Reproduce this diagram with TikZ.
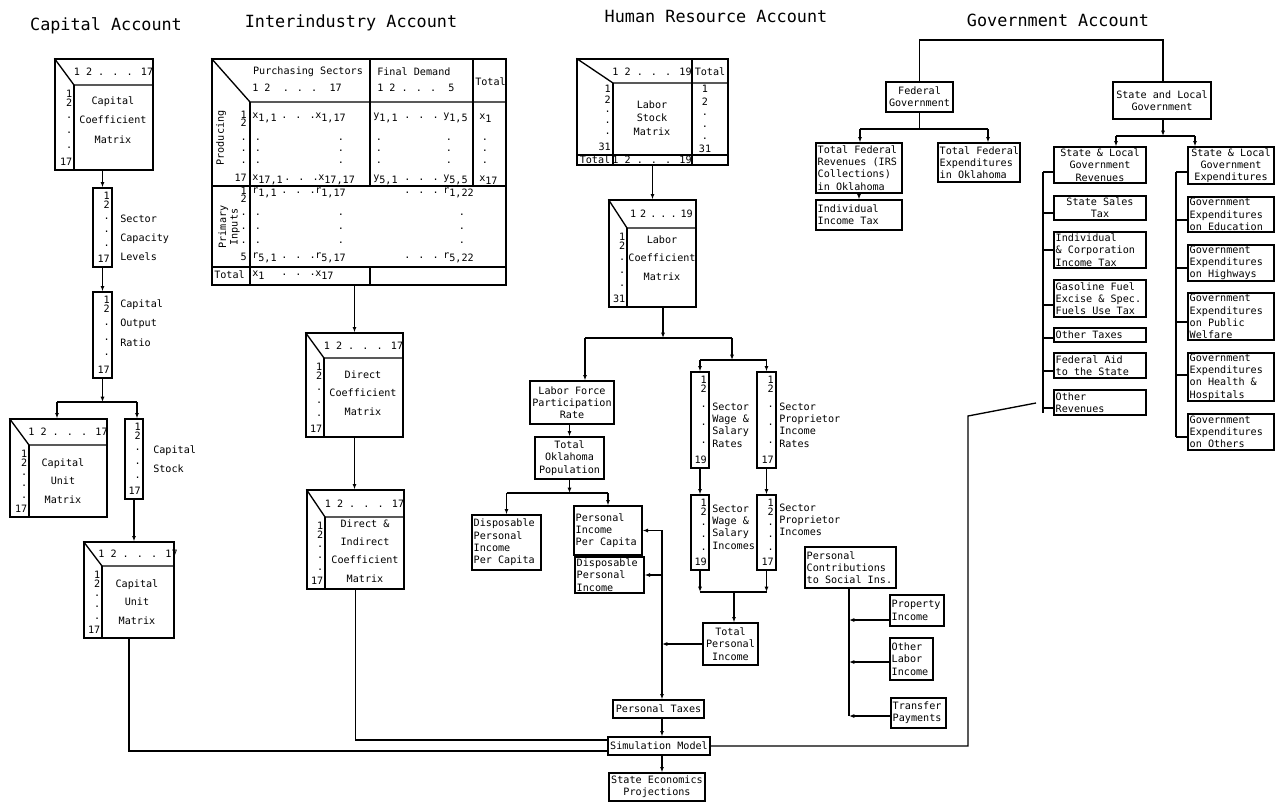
\documentclass[tikz,border=0pt]{standalone}
\usepackage{fontspec}
\setmainfont{DejaVu Sans Mono}
\usetikzlibrary{arrows.meta,fit,calc}
\newcommand{\lw}[1]{\raisebox{-2.4pt}{#1}}
\newcommand{\fsn}{\fontsize{7.6}{9.2}\selectfont}
\newcommand{\fsw}{\fontsize{7.6}{14.4}\selectfont}
\newcommand{\fsm}{\fontsize{7.6}{13.8}\selectfont}
\newcommand{\fsl}{\fontsize{7.6}{10.1}\selectfont}
% matrix box: name,x1,y1,x2,y2,xd,yd,header,last
\newcommand{\matbox}[9]{%
  \node[bx,fit={(#2,#3) (#4,#5)}] (#1) {};
  \draw[ln] (#1.north west) -- (#6,#7) -- (#4,#7);
  \draw[ln] (#6,#7) -- (#6,#5);
  \node[tx] (#1h) at ({(#6+#4)/2},{(#3+#7)/2}) {#8};
  \node[tx,anchor=east] (#1n1) at ({#6-1.5},{#7+9}) {1};
  \node[tx,anchor=east] (#1n2) at ({#6-1.5},{#7+18}) {2};
  \node[tx,anchor=east] (#1n3) at ({#6-1.5},{#7+18+(#5-#7-26)*0.25}) {.};
  \node[tx,anchor=east] (#1n4) at ({#6-1.5},{#7+18+(#5-#7-26)*0.5}) {.};
  \node[tx,anchor=east] (#1n5) at ({#6-1.5},{#7+18+(#5-#7-26)*0.75}) {.};
  \node[tx,anchor=east] (#1n6) at ({#6-1.5},{#5-8}) {#9};
}
% vertical column: name,x1,y1,x2,y2,last
\newcommand{\vcol}[6]{%
  \node[bx,fit={(#2,#3) (#4,#5)}] (#1) {};
  \node[tx,anchor=east] (#1n1) at ({#4-2},{#3+8}) {1};
  \node[tx,anchor=east] (#1n2) at ({#4-2},{#3+17}) {2};
  \node[tx,anchor=east] (#1n3) at ({#4-2},{#3+17+(#5-#3-25)*0.25}) {.};
  \node[tx,anchor=east] (#1n4) at ({#4-2},{#3+17+(#5-#3-25)*0.5}) {.};
  \node[tx,anchor=east] (#1n5) at ({#4-2},{#3+17+(#5-#3-25)*0.75}) {.};
  \node[tx,anchor=east] (#1n6) at ({#4-2},{#5-8}) {#6};
}
\newcommand{\cbox}[4]{%
  \node[bx,fit={#2 #3}] (#1) {};
  \node[tx,align=center] (#1t) at (#1.center) {#4};
}
\newcommand{\lbox}[4]{%
  \node[bx,fit={#2 #3}] (#1) {};
  \node[tx,align=left,anchor=west] (#1t) at ([xshift=1.6pt]#1.west) {#4};
}
\begin{document}
\begin{tikzpicture}[x=0.75pt,y=-0.75pt,
  ln/.style={line width=1pt},
  arr/.style={line width=1pt,-{Latex[length=4pt,width=3pt]}},
  bx/.style={draw,line width=1pt,inner sep=0pt},
  tx/.style={inner sep=0pt,font=\fsn},
  ttl/.style={inner sep=0pt,font=\fontsize{12.6}{14}\selectfont}]
\fill[white] (0,0) rectangle (1279,803);
\useasboundingbox (0,0) rectangle (1279,803);

% ---------- titles
\node[ttl] (t1) at (106,26) {Capital Account};
\node[ttl] (t2) at (351,23) {Interindustry Account};
\node[ttl] (t3) at (716,16) {Human Resource Account};
\node[ttl] (t4) at (1058,20) {Government Account};

% ---------- Capital account
\matbox{ccm}{55}{59}{153}{170}{74}{85}{1 2 . . . 17}{17}
\node[tx,align=center,font=\fsw] (ccmt) at (113,120) {Capital\\Coefficient\\Matrix};
\vcol{scl}{93}{188}{112}{267}{17}
\node[tx,align=left,anchor=west,font=\fsw] (sclt) at (120,238) {Sector\\Capacity\\Levels};
\vcol{cor}{93}{292}{112}{378}{17}
\node[tx,align=left,anchor=west,font=\fsw] (cort) at (120,323) {Capital\\Output\\Ratio};
\draw[arr] (scl.north |- ccm.south) -- (scl.north);
\draw[arr] (scl.south) -- (cor.north);
\coordinate (cbm) at (102.5,402);
\coordinate (cbl) at (57,402);
\coordinate (cbr) at (137,402);
\draw[arr] (cor.south) -- (cbm);
\draw[ln] (cbl) -- (cbr);
\matbox{cum}{10}{419}{107}{517}{29}{445}{1 2 . . . 17}{17}
\node[tx,align=center,font=\fsm] (cumt) at (63,481) {Capital\\Unit\\Matrix};
\vcol{cst}{125}{419}{143}{499}{17}
\node[tx,align=left,anchor=west,font=\fsm] (cstt) at (153,459) {Capital\\Stock};
\draw[arr] (cbl) -- (cbl |- cum.north);
\draw[arr] (cbr) -- (cbr |- cst.north);
\matbox{cumb}{84}{542}{174}{638}{102}{566}{1 2 . . . 17}{17}
\node[tx,align=center,font=\fsm] (cumbt) at (137,602) {Capital\\Unit\\Matrix};
\draw[arr] (cst.south) -- (cst.south |- cumb.north);

% ---------- Interindustry account
\node[bx,fit={(212,59) (506,285)}] (iot) {};
\draw[ln] (iot.north west) -- (250,102) -- (506,102);
\draw[ln] (250,102) -- (250,285);
\draw[ln] (370,59) -- (370,186);
\draw[ln] (473,59) -- (473,186);
\draw[ln] (212,186) -- (506,186);
\draw[ln] (212,267) -- (506,267);
\draw[ln] (370,267) -- (370,285);
\node[tx] (ps) at (308,72) {Purchasing Sectors};
\node[tx,anchor=west] (psn) at (252,88) {1 2~~. . .~~17};
\node[tx,anchor=west] (fdm) at (377,72) {Final Demand};
\node[tx,anchor=west] (fdn) at (377,88) {1 2 . . .~~5};
\node[tx,anchor=west] (ttc) at (475,82) {Total};
\node[tx,rotate=90] (prod) at (221,138) {Producing};
\node[tx,anchor=east] (pr1) at (247,115) {1};
\node[tx,anchor=east] (pr2) at (247,123) {2};
\node[tx,anchor=east] (pr3) at (247,140) {.};
\node[tx,anchor=east] (pr4) at (247,151) {.};
\node[tx,anchor=east] (pr5) at (247,163) {.};
\node[tx,anchor=east] (pr6) at (247,178) {17};
\node[tx,anchor=west] (a11) at (252,118) {x\lw{1,1}};
\node[tx,anchor=west] (a12) at (281,118) {. . .};
\node[tx,anchor=west] (a13) at (315,118) {x\lw{1,17}};
\node[tx,anchor=west] (a14) at (373,118) {y\lw{1,1}};
\node[tx,anchor=west] (a15) at (404,118) {. . .};
\node[tx,anchor=west] (a16) at (443,118) {y\lw{1,5}};
\node[tx,anchor=west] (a17) at (479,118) {x\lw{1}};
\foreach \xx [count=\i] in {258,341,379,449,485}
  {\foreach \yy [count=\j] in {140,151,163}
    {\node[tx] (pd\i-\j) at (\xx,\yy) {.};}}
\node[tx,anchor=west] (b11) at (252,180) {x\lw{17,1}};
\node[tx,anchor=west] (b12) at (284,180) {. . .};
\node[tx,anchor=west] (b13) at (318,180) {x\lw{17,17}};
\node[tx,anchor=west] (b14) at (373,180) {y\lw{5,1}};
\node[tx,anchor=west] (b15) at (404,180) {. . .};
\node[tx,anchor=west] (b16) at (443,180) {y\lw{5,5}};
\node[tx,anchor=west] (b17) at (479,180) {x\lw{17}};
\node[tx,rotate=90,align=center,font=\fontsize{7.6}{8.6}\selectfont] (prim) at (229,227) {Primary\\Inputs};
\node[tx,anchor=east] (qr1) at (247,191) {1};
\node[tx,anchor=east] (qr2) at (247,199) {2};
\node[tx,anchor=east] (qr3) at (247,215) {.};
\node[tx,anchor=east] (qr4) at (247,229) {.};
\node[tx,anchor=east] (qr5) at (247,243) {.};
\node[tx,anchor=east] (qr6) at (247,257) {5};
\node[tx,anchor=west] (c11) at (252,193) {r\lw{1,1}};
\node[tx,anchor=west] (c12) at (281,193) {. . .};
\node[tx,anchor=west] (c13) at (315,193) {r\lw{1,17}};
\node[tx,anchor=west] (c15) at (404,193) {. . .};
\node[tx,anchor=west] (c16) at (443,193) {r\lw{1,22}};
\foreach \xx [count=\i] in {258,341,462}
  {\foreach \yy [count=\j] in {215,229,243}
    {\node[tx] (qd\i-\j) at (\xx,\yy) {.};}}
\node[tx,anchor=west] (e11) at (252,258) {r\lw{5,1}};
\node[tx,anchor=west] (e12) at (281,258) {. . .};
\node[tx,anchor=west] (e13) at (315,258) {r\lw{5,17}};
\node[tx,anchor=west] (e15) at (404,258) {. . .};
\node[tx,anchor=west] (e16) at (443,258) {r\lw{5,22}};
\node[tx,anchor=west] (f1) at (214,275) {Total};
\node[tx,anchor=west] (f2) at (252,275) {x\lw{1}};
\node[tx,anchor=west] (f3) at (281,275) {. . .};
\node[tx,anchor=west] (f4) at (315,275) {x\lw{17}};

\matbox{dcm}{306}{333}{403}{437}{324}{358}{1 2 . . . 17}{17}
\node[tx,align=center,font=\fsm] (dcmt) at (363,393) {Direct\\Coefficient\\Matrix};
\draw[arr] (dcm.north |- iot.south) -- (dcm.north);
\matbox{dic}{307}{490}{404}{589}{325}{517}{1 2 . . . 17}{17}
\node[tx,align=center,font=\fsm] (dict) at (365,551) {Direct \&\\Indirect\\Coefficient\\Matrix};
\draw[arr] (dcm.south) -- (dcm.south |- dic.north);

% ---------- Human resource account
\node[bx,fit={(577,59) (728,165)}] (lsm) {};
\draw[ln] (lsm.north west) -- (613,83) -- (728,83);
\draw[ln] (613,83) -- (613,165);
\draw[ln] (692,59) -- (692,165);
\draw[ln] (577,155) -- (728,155);
\node[tx] (lsh) at (652,72) {1 2 . . . 19};
\node[tx] (lsht) at (710,72) {Total};
\node[tx,anchor=east] (lsl1) at (611,89) {1};
\node[tx,anchor=east] (lsl2) at (611,100) {2};
\node[tx,anchor=east] (lsl3) at (611,112) {.};
\node[tx,anchor=east] (lsl4) at (611,123) {.};
\node[tx,anchor=east] (lsl5) at (611,134) {.};
\node[tx,anchor=east] (lsl6) at (611,147) {31};
\node[tx] (lsr1) at (705,89) {1};
\node[tx] (lsr2) at (705,102) {2};
\node[tx] (lsr3) at (705,115) {.};
\node[tx] (lsr4) at (705,127) {.};
\node[tx] (lsr5) at (705,139) {.};
\node[tx] (lsr6) at (705,149) {31};
\node[tx,align=center,font=\fsl] (lst) at (652,118) {Labor\\Stock\\Matrix};
\node[tx] (lsb1) at (595,160) {Total};
\node[tx] (lsb2) at (652,160) {1 2 . . . 19};
\matbox{lcm}{609}{200}{696}{307}{627}{228}{1\hspace{3pt}2\hspace{3pt}.\hspace{3pt}.\hspace{3pt}.\hspace{3pt}19}{31}
\node[tx,align=center,font=\fsm] (lcmt) at (662,258) {Labor\\Coefficient\\Matrix};
\draw[arr] (lcm.north |- lsm.south) -- (lcm.north);

\cbox{lfpr}{(530,381)}{(614,424)}{Labor Force\\Participation\\Rate}
\cbox{top}{(535,437)}{(604,479)}{Total\\Oklahoma\\Population}
\lbox{dpipc}{(472,515)}{(541,570)}{Disposable\\Personal\\Income\\Per Capita}
\lbox{pipc}{(574,506)}{(642,555)}{Personal\\Income\\Per Capita}
\lbox{dpi}{(575,557)}{(644,593)}{Disposable\\Personal\\Income}

\coordinate (hb1) at (663,338);
\coordinate (hbl) at (585,338);
\coordinate (hbr) at (732,338);
\coordinate (hb2) at (732,360);
\coordinate (hb2l) at (700,360);
\coordinate (hb2r) at (766.5,360);
\draw[arr] (lcm.south -| hb1) -- (hb1);
\draw[ln] (hbl) -- (hbr);
\draw[arr] (hbl) -- (hbl |- lfpr.north);
\draw[arr] (hbr) -- (hb2);
\draw[ln] (hb2l) -- (hb2r);

\vcol{wr}{691}{372}{709}{468}{19}
\vcol{pr}{757}{372}{776}{468}{17}
\node[tx,align=left,anchor=west] (wrt) at (712,425) {Sector\\Wage \&\\Salary\\Rates};
\node[tx,align=left,anchor=west] (prt) at (779,425) {Sector\\Proprietor\\Income\\Rates};
\draw[arr] (hb2l) -- (wr.north);
\draw[arr] (hb2r) -- (pr.north);
\vcol{wi}{691}{495}{709}{570}{19}
\vcol{pi}{757}{495}{776}{570}{17}
\node[tx,align=left,anchor=west] (wit) at (712,527) {Sector\\Wage \&\\Salary\\Incomes};
\node[tx,align=left,anchor=west] (pit) at (779,520) {Sector\\Proprietor\\Incomes};
\draw[arr] (wr.south) -- (wi.north);
\draw[arr] (pr.south) -- (pi.north);

\draw[arr] (top.north |- lfpr.south) -- (top.north);
\coordinate (tb) at (569.5,493);
\coordinate (tbl) at (506.5,493);
\coordinate (tbr) at (608,493);
\draw[arr] (top.south) -- (tb);
\draw[ln] (tbl) -- (tbr);
\draw[arr] (tbl) -- (dpipc.north);
\draw[arr] (tbr) -- (pipc.north);

\cbox{tpi}{(703,623)}{(758,665)}{Total\\Personal\\Income}
\coordinate (ib1) at (700,592);
\coordinate (ib2) at (766.5,592);
\coordinate (ibm) at (734,592);
\draw[arr] (wi.south) -- (ib1);
\draw[arr] (pi.south) -- (ib2);
\draw[ln] (ib1) -- (ib2);
\draw[arr] (ibm) -- (ibm |- tpi.north);

\cbox{ptax}{(613,700)}{(704,718)}{Personal Taxes}
\cbox{sim}{(608,737)}{(710,755)}{Simulation Model}
\cbox{sep}{(609,773)}{(705,801)}{State Economics\\Projections}
\coordinate (jv) at (662,644);
\draw[arr] (tpi.west) -- (tpi.west -| jv);
\draw[arr] (jv) |- (pipc.east);
\draw[arr] (jv) |- (dpi.east);
\draw[arr] (jv) -- (jv |- ptax.north);
\draw[arr] (ptax.south -| jv) -- (sim.north -| jv);
\draw[arr] (sim.south -| jv) -- (sep.north -| jv);

\coordinate (simw1) at (608,740);
\coordinate (simw2) at (608,751);
\draw[ln] (dic.south) |- (simw1);
\draw[ln] (cumb.south) |- (simw2);

% ---------- personal contributions etc.
\lbox{pcs}{(805,547)}{(896,588)}{Personal\\Contributions\\to Social Ins.}
\lbox{prop}{(890,595)}{(944,626)}{Property\\Income}
\lbox{oli}{(890,638)}{(933,680)}{Other\\Labor\\Income}
\lbox{tpay}{(891,698)}{(946,728)}{Transfer\\Payments}
\coordinate (pv1) at (849,620);
\coordinate (pv2) at (849,662);
\coordinate (pv3) at (849,716);
\draw[ln] (pcs.south -| pv1) -- (pv3);
\draw[arr] (prop.west |- pv1) -- (pv1);
\draw[arr] (oli.west |- pv2) -- (pv2);
\draw[arr] (tpay.west |- pv3) -- (pv3);

% ---------- Government account
\cbox{fed}{(886,82)}{(953,112)}{Federal\\Government}
\cbox{slg}{(1113,82)}{(1211,119)}{State and Local\\Government}
\coordinate (gt) at (1163,40);
\draw[ln] (fed.north) |- (gt) -- (slg.north -| gt);
\lbox{tfr}{(816,143)}{(902,193)}{Total Federal\\Revenues (IRS\\Collections)\\in Oklahoma}
\lbox{iit}{(816,200)}{(902,230)}{Individual\\Income Tax}
\lbox{tfe}{(938,143)}{(1020,182)}{Total Federal\\Expenditures\\in Oklahoma}
\coordinate (fj) at (919.5,129);
\coordinate (fl) at (860,129);
\coordinate (fr) at (988,129);
\draw[ln] (fed.south) -- (fj);
\draw[ln] (fl) -- (fr);
\draw[arr] (fl) -- (fl |- tfr.north);
\draw[arr] (fr) -- (fr |- tfe.north);
\draw[arr] (tfr.south) -- (iit.north);

\cbox{slr}{(1054,147)}{(1146,183)}{State \& Local\\Government\\Revenues}
\cbox{sst}{(1054,196)}{(1146,220)}{State Sales\\Tax}
\lbox{ict}{(1054,232)}{(1146,268)}{Individual\\\& Corporation\\Income Tax}
\lbox{gas}{(1054,280)}{(1146,317)}{Gasoline Fuel\\Excise \& Spec.\\Fuels Use Tax}
\lbox{otx}{(1054,328)}{(1146,342)}{Other Taxes}
\lbox{fas}{(1054,353)}{(1146,378)}{Federal Aid\\to the State}
\lbox{orv}{(1054,390)}{(1146,415)}{Other\\Revenues}
\cbox{sle}{(1188,147)}{(1274,184)}{State \& Local\\Government\\Expenditures}
\lbox{ged}{(1188,197)}{(1274,232)}{Government\\Expenditures\\on Education}
\lbox{ghw}{(1188,245)}{(1274,281)}{Government\\Expenditures\\on Highways}
\lbox{gpw}{(1188,293)}{(1274,340)}{Government\\Expenditures\\on Public\\Welfare}
\lbox{ghh}{(1188,353)}{(1274,401)}{Government\\Expenditures\\on Health \&\\Hospitals}
\lbox{got}{(1188,414)}{(1274,450)}{Government\\Expenditures\\on Others}

\coordinate (sj) at (1163,136);
\coordinate (sl) at (1116,136);
\coordinate (sr) at (1195,136);
\draw[arr] (slg.south -| sj) -- (sj);
\draw[ln] (sl) -- (sr);
\draw[arr] (sl) -- (sl |- slr.north);
\draw[arr] (sr) -- (sr |- sle.north);

\draw[ln] (1043,172) -- (1043,413);
\foreach \b/\yy in {slr/172,sst/213,ict/250,gas/305,otx/338,fas/371,orv/408}
  {\draw[ln] (1043,\yy) -- (\b.west |- 0,\yy);}
\draw[ln] (1176,172) -- (1176,437);
\foreach \b/\yy in {sle/172,ged/220,ghw/268,gpw/322,ghh/375,got/437}
  {\draw[ln] (1176,\yy) -- (\b.west |- 0,\yy);}

\coordinate (ge1) at (968,746);
\coordinate (ge2) at (968,416);
\coordinate (ge3) at (1036,403);
\draw[ln] (sim.east) -- (ge1) -- (ge2) -- (ge3);
\end{tikzpicture}
\end{document}
